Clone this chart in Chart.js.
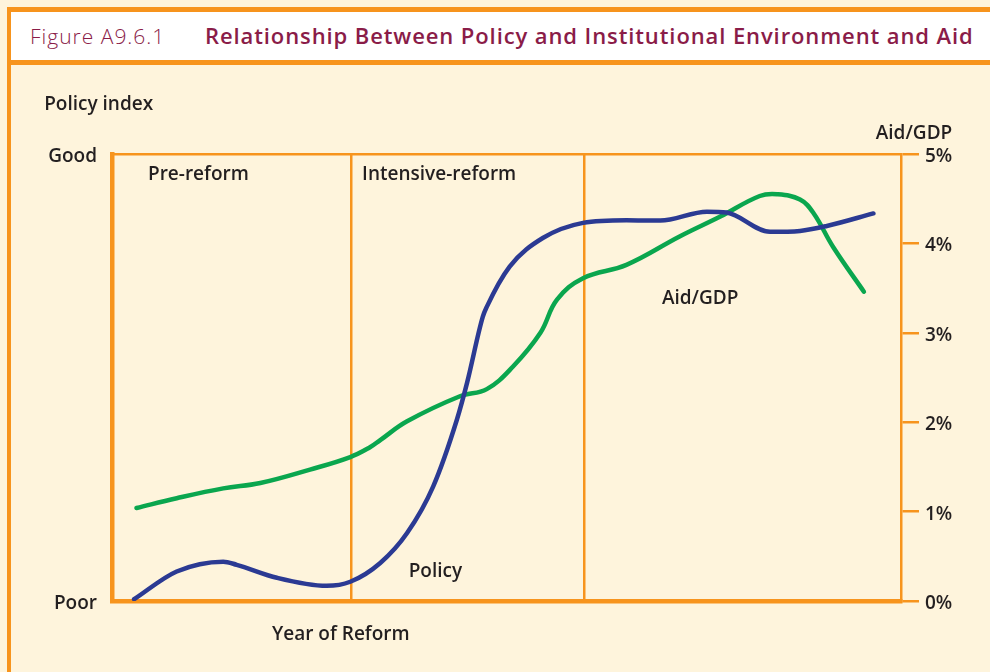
<!DOCTYPE html>
<html>
<head>
<meta charset="utf-8">
<script src="https://cdn.jsdelivr.net/npm/chart.js@4.4.1/dist/chart.umd.min.js"></script>
<style>
  html, body { margin:0; padding:0; }
  body { width:990px; height:672px; position:relative; overflow:hidden; background:#FEF4DC; font-family:"Open Sans", sans-serif; }
  #topbar { position:absolute; left:7px; top:7px; width:983px; height:5px; background:#F7941D; }
  #header { position:absolute; left:11px; top:12px; width:979px; height:48px; background:#FFFFFF; }
  #hline { position:absolute; left:7px; top:60px; width:983px; height:5px; background:#F7941D; }
  #lbar { position:absolute; left:7px; top:7px; width:4px; height:665px; background:#F7941D; }
  #fig { position:absolute; left:30px; top:22px; font-size:21px; font-weight:300; color:#8A1C48; white-space:nowrap; letter-spacing:1px; }
  #ttl { position:absolute; left:205px; top:20px; font-size:22px; font-weight:600; color:#8A1C48; white-space:nowrap; letter-spacing:0.9px; }
  #wrap { position:absolute; left:0; top:0; width:990px; height:672px; }
</style>
</head>
<body>
<div id="topbar"></div>
<div id="header"></div>
<div id="hline"></div>
<div id="lbar"></div>
<div id="fig">Figure A9.6.1</div>
<div id="ttl">Relationship Between Policy and Institutional Environment and Aid</div>
<div id="wrap"><canvas id="c"></canvas></div>
<script>
// ---- data ----
const policyX = [2.8, 8.2, 14.1, 15.8, 20.9, 27.2, 30.2, 34.0, 37.4, 40.7, 43.7, 45.0, 47.0, 47.5, 50.4, 54.6, 59.7, 65.2, 69.5, 75.4, 77.9, 83.4, 87.2, 90.6, 96.5];
const policyY = [0.4, 6.6, 8.8, 8.1, 5.2, 3.4, 4.3, 8.5, 15.2, 25.6, 40.5, 48.8, 63.6, 65.8, 74.8, 81.2, 84.6, 85.2, 85.1, 87.1, 86.9, 82.6, 82.8, 83.9, 86.7];
const aidX = [3.1, 8.2, 14.1, 18.8, 25.1, 30.2, 32.7, 34.0, 37.4, 44.1, 47.5, 50.8, 54.3, 56.4, 59.7, 65.2, 72.0, 77.1, 82.1, 84.3, 87.2, 88.9, 91.4, 95.3];
const aidY = [1.04, 1.15, 1.26, 1.32, 1.47, 1.61, 1.72, 1.80, 2.01, 2.29, 2.37, 2.62, 3.00, 3.37, 3.61, 3.76, 4.08, 4.30, 4.53, 4.55, 4.49, 4.34, 3.96, 3.46];
const periodBounds = [30.3, 59.8];
const policyTicks = [0, 100];
const policyTickLabels = {0: 'Poor', 100: 'Good'};
const aidTicks = [0, 1, 2, 3, 4, 5];

const ORANGE = '#F7941D';
const TEXT = '#231F20';
const FONT = '"Open Sans", sans-serif';
const LABEL_FONT = {family:FONT, size:19, weight:'600'};

// text annotations (x in year-axis units, y in policy-index units)
const notes = [
  {text:'Pre-reform', x:4.56, y:95.4, align:'left'},
  {text:'Intensive-reform', x:31.7, y:95.4, align:'left'},
  {text:'Aid/GDP', x:69.7, y:67.6, align:'left'},
  {text:'Policy', x:37.6, y:6.6, align:'left'},
  {text:'Year of Reform', x:29.0, y:-7.6, align:'center'},
  {text:'Policy index', x:-8.6, y:111.0, align:'left'},
  {text:'Aid/GDP', x:96.8, y:104.5, align:'left'}
];

const notePlugin = {
  id:'notes',
  afterDraw(chart) {
    const ctx = chart.ctx, xs = chart.scales.x, ys = chart.scales.y;
    ctx.save();
    ctx.fillStyle = TEXT;
    ctx.font = LABEL_FONT.weight + ' ' + LABEL_FONT.size + 'px ' + FONT;
    ctx.textBaseline = 'middle';
    notes.forEach(n => {
      ctx.textAlign = n.align;
      ctx.fillText(n.text, xs.getPixelForValue(n.x), ys.getPixelForValue(n.y));
    });
    ctx.restore();
  }
};

new Chart(document.getElementById('c'), {
  type:'line',
  data:{
    datasets:[
      {label:'Policy', data: policyX.map((x,i)=>({x, y:policyY[i]})), yAxisID:'y', borderColor:'#2B3A93', borderWidth:4.5, pointRadius:0, tension:0.4, cubicInterpolationMode:'monotone', borderCapStyle:'round', borderJoinStyle:'round'},
      {label:'Aid/GDP', data: aidX.map((x,i)=>({x, y:aidY[i]})), yAxisID:'y1', borderColor:'#0AA64E', borderWidth:4.5, pointRadius:0, tension:0.4, borderCapStyle:'round', borderJoinStyle:'round'}
    ]
  },
  options:{
    responsive:true, maintainAspectRatio:false, animation:false,
    layout:{padding:{left:0, right:0, top:154, bottom:71}},
    plugins:{legend:{display:false}, tooltip:{enabled:false}},
    scales:{
      x:{type:'linear', min:0, max:100, position:'bottom',
         afterBuildTicks(s){ s.ticks = periodBounds.map(v=>({value:v})); },
         afterFit(s){ s.height = 0; },
         ticks:{display:false},
         grid:{display:true, drawOnChartArea:true, drawTicks:false, color:ORANGE, lineWidth:2.5},
         border:{display:true, color:ORANGE, width:4.5}},
      xTop:{type:'linear', min:0, max:100, position:'top',
         afterFit(s){ s.height = 0; },
         ticks:{display:false},
         grid:{display:false, drawTicks:false},
         border:{display:true, color:ORANGE, width:2.5}},
      y:{type:'linear', min:0, max:100, position:'left',
         afterBuildTicks(s){ s.ticks = policyTicks.map(v=>({value:v})); },
         afterFit(s){ s.width = 112; },
         ticks:{padding:15, labelOffset:2.5, color:TEXT, font:LABEL_FONT, callback:(v)=>policyTickLabels[v]},
         grid:{display:true, drawOnChartArea:false, drawTicks:false, color:'rgba(0,0,0,0)'},
         border:{display:true, color:ORANGE, width:4.5}},
      y1:{type:'linear', min:0, max:5, position:'right',
         afterBuildTicks(s){ s.ticks = aidTicks.map(v=>({value:v})); },
         afterFit(s){ s.width = 89; },
         ticks:{padding:6, labelOffset:2.5, color:TEXT, font:LABEL_FONT, callback:(v)=>v+'%'},
         grid:{display:true, drawOnChartArea:false, drawTicks:true, tickLength:18, color:ORANGE, lineWidth:2.5},
         border:{display:true, color:ORANGE, width:2.5}}
    }
  },
  plugins:[notePlugin]
});
</script>
</body>
</html>
